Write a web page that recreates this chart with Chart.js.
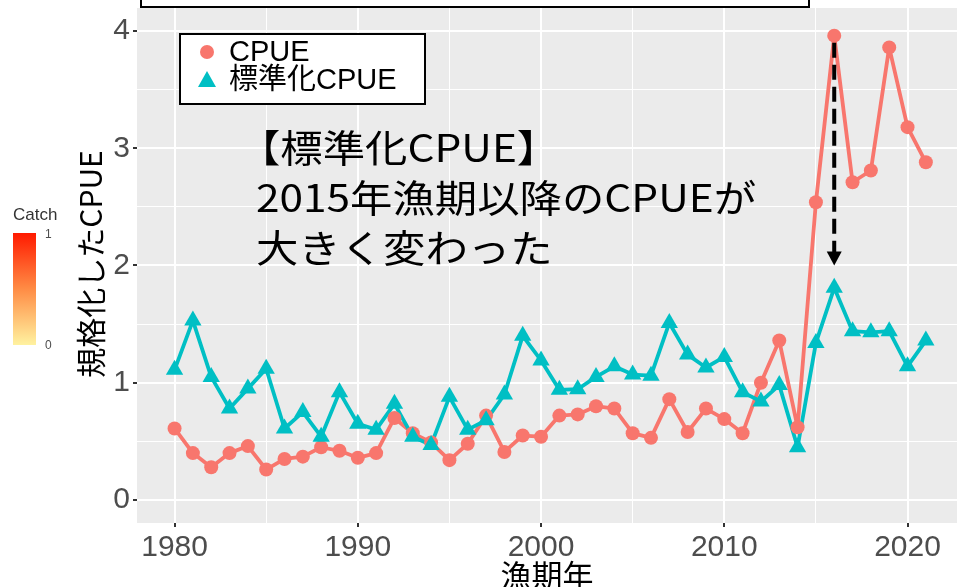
<!DOCTYPE html>
<html>
<head>
<meta charset="utf-8">
<script src="https://cdn.jsdelivr.net/npm/chart.js@4/dist/chart.umd.min.js"></script>
<style>
html, body { margin: 0; padding: 0; background: #fff; }
</style>
</head>
<body>
<canvas id="chart" width="957" height="587"></canvas>
<script>
const years = [1980,1981,1982,1983,1984,1985,1986,1987,1988,1989,
               1990,1991,1992,1993,1994,1995,1996,1997,1998,1999,
               2000,2001,2002,2003,2004,2005,2006,2007,2008,2009,
               2010,2011,2012,2013,2014,2015,2016,2017,2018,2019,
               2020,2021];
const cpue = [0.61,0.40,0.28,0.40,0.46,0.26,0.35,0.37,0.45,0.42,
              0.36,0.40,0.70,0.57,0.49,0.34,0.48,0.72,0.41,0.55,
              0.54,0.72,0.73,0.80,0.78,0.57,0.53,0.86,0.58,0.78,
              0.69,0.57,1.00,1.36,0.62,2.54,3.96,2.71,2.81,3.86,
              3.18,2.88];
const stdCpue = [1.11,1.53,1.05,0.78,0.95,1.12,0.61,0.75,0.54,0.92,
                 0.65,0.60,0.82,0.54,0.47,0.88,0.60,0.68,0.90,1.40,
                 1.19,0.94,0.945,1.05,1.14,1.07,1.06,1.51,1.24,1.13,
                 1.22,0.92,0.84,0.98,0.45,1.34,1.81,1.44,1.43,1.44,
                 1.14,1.36];
const xTicks = [1980,1985,1990,1995,2000,2005,2010,2015,2020];
const yTicks = [0,0.5,1,1.5,2,2.5,3,3.5,4];
const seriesNames = ['CPUE', '標準化CPUE'];
const note = ['【標準化CPUE】', '2015年漁期以降のCPUEが', '大きく変わった'];
const arrowYear = 2016, arrowFrom = 3.9, arrowTo = 2.0;

const RED = '#F8766D', TEAL = '#00BFC4';
const pts = arr => years.map((y, i) => ({x: y, y: arr[i]}));
const isMajor = v => Math.abs(v - Math.round(v)) < 1e-6;
const isMajorYear = v => v % 10 === 0;

const decor = {
  id: 'decor',
  beforeDraw(chart) {
    const {ctx, chartArea: a} = chart;
    ctx.save();
    ctx.fillStyle = '#fff';
    ctx.fillRect(0, 0, chart.width, chart.height);
    ctx.fillStyle = '#EBEBEB';
    ctx.fillRect(a.left, a.top, a.right - a.left, a.bottom - a.top);
    ctx.restore();
  },
  afterDraw(chart) {
    const {ctx} = chart;
    const xs = chart.scales.x, ys = chart.scales.y;
    ctx.save();

    // dashed arrow
    const ax = xs.getPixelForValue(arrowYear);
    const y1 = ys.getPixelForValue(arrowFrom), y2 = ys.getPixelForValue(arrowTo);
    ctx.strokeStyle = '#000';
    ctx.lineWidth = 4;
    ctx.setLineDash([15, 7]);
    ctx.beginPath();
    ctx.moveTo(ax, y1);
    ctx.lineTo(ax, y2 - 10);
    ctx.stroke();
    ctx.setLineDash([]);
    ctx.fillStyle = '#000';
    ctx.beginPath();
    ctx.moveTo(ax, y2);
    ctx.lineTo(ax - 7.5, y2 - 14);
    ctx.lineTo(ax + 7.5, y2 - 14);
    ctx.closePath();
    ctx.fill();

    // top box (cut off)
    ctx.fillStyle = '#fff';
    ctx.fillRect(141, -5, 668, 12);
    ctx.strokeStyle = '#000';
    ctx.lineWidth = 2;
    ctx.strokeRect(141, -5, 668, 12);

    // legend
    ctx.fillStyle = '#fff';
    ctx.fillRect(180, 34, 245, 70);
    ctx.strokeRect(180, 34, 245, 70);
    ctx.fillStyle = RED;
    ctx.beginPath();
    ctx.arc(207, 52, 7, 0, Math.PI * 2);
    ctx.fill();
    ctx.fillStyle = TEAL;
    ctx.beginPath();
    ctx.moveTo(207, 71);
    ctx.lineTo(216, 87);
    ctx.lineTo(198, 87);
    ctx.closePath();
    ctx.fill();
    ctx.fillStyle = '#000';
    ctx.font = '29px "Liberation Sans", "Noto Sans CJK JP", sans-serif';
    ctx.textBaseline = 'middle';
    ctx.textAlign = 'left';
    ctx.fillText(seriesNames[0], 229, 53);
    ctx.fillText(seriesNames[1], 229, 81);

    // annotation
    ctx.font = '38px "Noto Sans CJK JP", sans-serif';
    const sx = 500 / ctx.measureText(note[1]).width;
    note.forEach((t, i) => {
      ctx.save();
      ctx.translate(i === 0 ? 238 : 256, 148 + i * 50);
      ctx.scale(sx, 1);
      ctx.fillText(t, 0, 0);
      ctx.restore();
    });

    // axis titles
    ctx.font = '31px "Noto Sans CJK JP", sans-serif';
    ctx.textAlign = 'center';
    ctx.fillText('漁期年', (chart.chartArea.left + chart.chartArea.right) / 2, 575);
    ctx.save();
    ctx.translate(91, 264);
    ctx.rotate(-Math.PI / 2);
    ctx.font = '30px "Noto Sans CJK JP", sans-serif';
    ctx.fillText('規格化したCPUE', 0, 0);
    ctx.restore();

    // Catch colour bar
    ctx.fillStyle = '#333';
    ctx.font = '17px "Liberation Sans", sans-serif';
    ctx.textAlign = 'left';
    ctx.fillText('Catch', 13, 215);
    const g = ctx.createLinearGradient(0, 233, 0, 345);
    g.addColorStop(0, '#FF1A00');
    g.addColorStop(0.5, '#FF8C45');
    g.addColorStop(1, '#FFF2A0');
    ctx.fillStyle = g;
    ctx.fillRect(13, 233, 23, 112);
    ctx.fillStyle = '#4D4D4D';
    ctx.font = '12px "Liberation Sans", sans-serif';
    ctx.fillText('1', 45, 235);
    ctx.fillText('0', 45, 346);

    ctx.restore();
  }
};

new Chart(document.getElementById('chart'), {
  type: 'line',
  data: {
    datasets: [
      {label: seriesNames[1], data: pts(stdCpue), showLine: false, order: 0,
       pointStyle: 'triangle', pointRadius: 10, backgroundColor: TEAL, borderWidth: 0},
      {label: seriesNames[0], data: pts(cpue), showLine: false, order: 1,
       pointStyle: 'circle', pointRadius: 7, backgroundColor: RED, borderWidth: 0},
      {label: seriesNames[1], data: pts(stdCpue), order: 2, pointRadius: 0,
       borderColor: TEAL, borderWidth: 3.8, tension: 0,
       borderJoinStyle: 'round', borderCapStyle: 'round'},
      {label: seriesNames[0], data: pts(cpue), order: 3, pointRadius: 0,
       borderColor: RED, borderWidth: 3.8, tension: 0,
       borderJoinStyle: 'round', borderCapStyle: 'round'}
    ]
  },
  options: {
    responsive: false,
    animation: false,
    events: [],
    layout: {autoPadding: false, padding: {top: 8, left: 0, right: 0, bottom: 0}},
    plugins: {legend: {display: false}, tooltip: {enabled: false}},
    scales: {
      x: {
        type: 'linear',
        min: 1977.95,
        max: 2022.7,
        afterFit: s => { s.height = 64; s.paddingLeft = 0; s.paddingRight = 0; },
        afterBuildTicks: s => { s.ticks = xTicks.map(v => ({value: v})); },
        border: {display: false},
        grid: {
          color: '#fff',
          lineWidth: c => isMajorYear(c.tick.value) ? 2 : 1,
          tickColor: c => isMajorYear(c.tick.value) ? '#333' : 'rgba(0,0,0,0)',
          tickLength: 4,
          drawTicks: true
        },
        ticks: {
          autoSkip: false,
          maxRotation: 0,
          padding: 3,
          color: '#4D4D4D',
          font: {family: '"Liberation Sans", sans-serif', size: 30},
          callback: v => isMajorYear(v) ? String(v) : ''
        }
      },
      y: {
        min: -0.196,
        max: 4.196,
        afterFit: s => { s.width = 137; s.paddingTop = 0; s.paddingBottom = 0; },
        afterBuildTicks: s => { s.ticks = yTicks.map(v => ({value: v})); },
        border: {display: false},
        grid: {
          color: '#fff',
          lineWidth: c => isMajor(c.tick.value) ? 2 : 1,
          tickColor: c => isMajor(c.tick.value) ? '#333' : 'rgba(0,0,0,0)',
          tickLength: 4,
          drawTicks: true
        },
        ticks: {
          autoSkip: false,
          padding: 3,
          color: '#4D4D4D',
          font: {family: '"Liberation Sans", sans-serif', size: 30},
          callback: v => isMajor(v) ? String(Math.round(v)) : ''
        }
      }
    }
  },
  plugins: [decor]
});
</script>
</body>
</html>
